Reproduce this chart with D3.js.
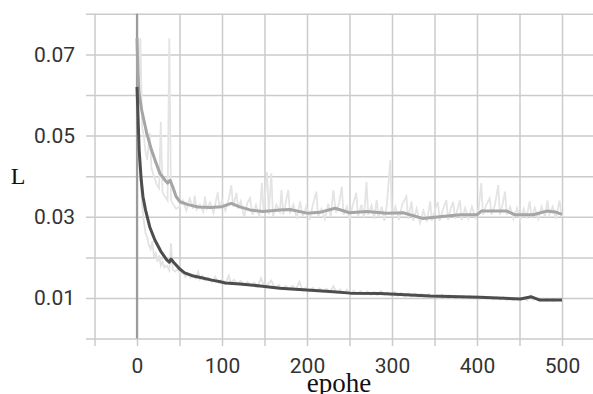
<!DOCTYPE html>
<html>
<head>
<meta charset="utf-8">
<script src="https://cdn.jsdelivr.net/npm/d3@7"></script>
<style>
html,body{margin:0;padding:0;background:#fff;overflow:hidden;}
</style>
</head>
<body>
<svg id="chart" width="593" height="394"></svg>
<script>
// ---- data ----
const xTicks = [0, 100, 200, 300, 400, 500];
const yTicks = [0.01, 0.03, 0.05, 0.07];
const xGrid = [-50, 0, 50, 100, 150, 200, 250, 300, 350, 400, 450, 500, 550];
const yGrid = [0, 0.01, 0.02, 0.03, 0.04, 0.05, 0.06, 0.07, 0.08];
const xLabel = "epohe";
const yLabel = "L";

// upper series, smoothed
const upSmoothSteps = [0, 1, 2.4, 5.5, 11.4, 17, 22, 27, 33, 36, 39, 42, 46, 50.6, 60, 72, 86, 100, 111, 120, 133, 148, 168, 180, 200, 215, 233, 250, 270, 294, 313, 336, 356, 380, 400, 405, 435, 445, 466, 482, 492, 500];
const upSmoothVals = [0.074, 0.066, 0.0605, 0.0563, 0.0506, 0.0465, 0.0435, 0.0407, 0.039, 0.0383, 0.039, 0.0374, 0.035, 0.0337, 0.033, 0.0324, 0.0323, 0.0325, 0.0333, 0.0325, 0.0317, 0.0313, 0.0317, 0.0318, 0.0309, 0.0311, 0.0321, 0.031, 0.0313, 0.0309, 0.031, 0.0296, 0.030, 0.0305, 0.0305, 0.0314, 0.0314, 0.0305, 0.0305, 0.0314, 0.0312, 0.0306];

// lower series, smoothed
const lowSmoothSteps = [0, 1, 2.5, 5, 7, 10, 15, 21, 28, 35, 38, 40, 43, 50, 56, 65, 76, 88, 98, 104, 121, 145, 168, 200, 231, 251, 286, 298, 345, 403, 451, 464, 474, 500];
const lowSmoothVals = [0.062, 0.056, 0.0465, 0.039, 0.035, 0.0317, 0.0275, 0.0243, 0.0215, 0.0194, 0.0188, 0.0196, 0.0188, 0.0172, 0.0162, 0.0155, 0.015, 0.0144, 0.014, 0.0137, 0.01345, 0.01296, 0.0124, 0.012, 0.01156, 0.0112, 0.0111, 0.011, 0.0105, 0.0102, 0.00975, 0.0103, 0.0095, 0.0095];

// upper series, raw
const upRawSteps = [0, 2, 4, 6, 8, 10, 12, 15, 17, 20, 23, 26, 28, 30, 33, 36, 38, 40, 43, 46, 50, 54, 58, 62, 66, 68, 70, 74, 78, 80, 82, 86, 90, 95, 97, 100, 104, 108, 111, 113, 117, 119, 122, 126, 130, 133, 136, 140, 144, 147, 149, 153, 155, 158, 160, 164, 168, 170, 172, 175, 178, 180, 184, 188, 192, 195, 199, 203, 207, 211, 213, 217, 221, 225, 228, 231, 234, 238, 241, 243, 247, 250, 254, 258, 260, 264, 267, 270, 272, 276, 279, 282, 284, 288, 291, 294, 298, 300, 304, 308, 312, 317, 319, 323, 325, 329, 333, 337, 341, 345, 347, 351, 354, 356, 360, 364, 366, 369, 372, 374, 377, 380, 382, 386, 390, 394, 398, 402, 405, 407, 411, 415, 417, 421, 425, 427, 430, 433, 435, 439, 443, 447, 451, 455, 458, 462, 464, 468, 472, 476, 480, 483, 485, 489, 493, 497, 500];
const upRawVals = [0.074, 0.060, 0.074, 0.052, 0.050, 0.046, 0.044, 0.0506, 0.042, 0.040, 0.038, 0.037, 0.0534, 0.036, 0.035, 0.034, 0.074, 0.034, 0.033, 0.032, 0.0325, 0.0340, 0.0315, 0.0345, 0.0320, 0.0352, 0.0318, 0.0330, 0.0312, 0.0350, 0.0320, 0.0335, 0.0310, 0.0360, 0.0322, 0.0340, 0.0315, 0.0345, 0.0378, 0.0325, 0.0359, 0.0320, 0.0338, 0.0300, 0.0335, 0.0346, 0.0305, 0.0330, 0.0298, 0.0383, 0.0310, 0.0410, 0.0305, 0.0407, 0.0300, 0.0330, 0.0312, 0.0366, 0.0305, 0.0335, 0.0366, 0.0308, 0.0330, 0.0295, 0.0338, 0.0300, 0.0325, 0.0292, 0.0330, 0.0362, 0.0300, 0.0320, 0.0295, 0.0332, 0.0300, 0.0366, 0.0310, 0.0335, 0.0374, 0.0305, 0.0325, 0.0293, 0.0330, 0.0359, 0.0300, 0.0330, 0.0298, 0.0386, 0.0305, 0.0328, 0.0295, 0.0341, 0.0300, 0.0325, 0.0290, 0.0330, 0.0440, 0.0300, 0.0325, 0.0292, 0.0330, 0.0350, 0.0295, 0.0338, 0.0290, 0.0320, 0.0285, 0.0315, 0.0288, 0.0338, 0.0290, 0.0320, 0.0337, 0.0290, 0.0318, 0.0341, 0.0292, 0.0320, 0.0337, 0.0295, 0.0318, 0.0340, 0.0292, 0.0322, 0.0296, 0.0325, 0.0298, 0.0320, 0.0383, 0.0305, 0.0330, 0.0346, 0.0305, 0.0328, 0.0378, 0.0305, 0.0330, 0.0362, 0.0305, 0.0325, 0.0295, 0.0322, 0.0292, 0.0320, 0.0296, 0.0338, 0.0298, 0.0322, 0.0295, 0.0325, 0.0300, 0.0340, 0.0305, 0.0325, 0.0295, 0.0340, 0.0300];

// lower series, raw
const lowRawSteps = [0, 2, 4, 6, 8, 10, 12, 14, 16, 18, 20, 22, 24, 26, 28, 30, 32, 35, 38, 40, 42, 45, 48, 51, 54, 57, 60, 63, 66, 69, 72, 74, 77, 80, 84, 88, 92, 96, 100, 104, 108, 110, 114, 118, 122, 126, 130, 134, 138, 142, 146, 150, 154, 158, 161, 163, 167, 171, 175, 179, 183, 187, 191, 195, 199, 203, 207, 211, 215, 219, 223, 227, 231, 235, 239, 243, 247, 251, 255, 259, 263, 267, 271, 275, 279, 283, 287, 291, 295, 299, 303, 307, 311, 315, 319, 323, 327, 331, 335, 339, 343, 347, 351, 355, 359, 363, 367, 371, 375, 379, 383, 387, 391, 395, 399, 403, 407, 411, 415, 419, 423, 427, 431, 435, 439, 443, 447, 451, 455, 459, 463, 466, 470, 474, 478, 482, 486, 490, 494, 498, 500];
const lowRawVals = [0.062, 0.045, 0.040, 0.033, 0.029, 0.026, 0.025, 0.023, 0.022, 0.024, 0.020, 0.021, 0.019, 0.0205, 0.018, 0.019, 0.0175, 0.018, 0.0168, 0.0235, 0.017, 0.0165, 0.0172, 0.0158, 0.0165, 0.0152, 0.0160, 0.0150, 0.0158, 0.0148, 0.0165, 0.0146, 0.0155, 0.0143, 0.0150, 0.0140, 0.0152, 0.0138, 0.0146, 0.0136, 0.0155, 0.0137, 0.0145, 0.0134, 0.0142, 0.0131, 0.0140, 0.0130, 0.0138, 0.0128, 0.0149, 0.0127, 0.0134, 0.0143, 0.0130, 0.0126, 0.0132, 0.0122, 0.0130, 0.0121, 0.0130, 0.0120, 0.0140, 0.0118, 0.0126, 0.0117, 0.0125, 0.0116, 0.0124, 0.0115, 0.0123, 0.0114, 0.0129, 0.0113, 0.0121, 0.0112, 0.0120, 0.0110, 0.0118, 0.0110, 0.0117, 0.0109, 0.0116, 0.0108, 0.0115, 0.0107, 0.0117, 0.0108, 0.0114, 0.0106, 0.0115, 0.0105, 0.0113, 0.0104, 0.0112, 0.0103, 0.0111, 0.0103, 0.0110, 0.0102, 0.0110, 0.0101, 0.0109, 0.0100, 0.0108, 0.0100, 0.0107, 0.0099, 0.0106, 0.0099, 0.0105, 0.0098, 0.0105, 0.0098, 0.0104, 0.0097, 0.0104, 0.0097, 0.0103, 0.0096, 0.0102, 0.0096, 0.0102, 0.0095, 0.0101, 0.0095, 0.0101, 0.0094, 0.0100, 0.0094, 0.0106, 0.0096, 0.0099, 0.0093, 0.0099, 0.0093, 0.0098, 0.0093, 0.0098, 0.0100, 0.0094];

// ---- chart ----
const W = 593, H = 394;
const svg = d3.select("#chart");
const x = d3.scaleLinear().domain([0, 500]).range([137, 562]);
const y = d3.scaleLinear().domain([0, 0.08]).range([338.6, 13.8]);
const plotLeft = 86, plotBottom = 346, plotTop = y(0.08);

const gridColor = "#cbcbcb";
const textColor = "#333";
const tickFont = "Roboto, 'Noto Sans', sans-serif";

// vertical gridlines via axisBottom
const gx = svg.append("g")
  .attr("transform", `translate(0,${plotBottom})`)
  .call(d3.axisBottom(x).tickValues(xGrid)
    .tickSize(-(plotBottom - plotTop))
    .tickPadding(12)
    .tickFormat(d => xTicks.includes(d) ? d3.format("d")(d) : ""));
gx.select(".domain").remove();
gx.selectAll(".tick line").attr("stroke", gridColor).attr("stroke-width", 1.5);
gx.selectAll(".tick text").attr("font-family", tickFont).attr("font-size", 21).attr("fill", textColor);

// horizontal gridlines via axisLeft
const gy = svg.append("g")
  .attr("transform", `translate(${plotLeft},0)`)
  .call(d3.axisLeft(y).tickValues(yGrid)
    .tickSize(-(W - plotLeft + 5))
    .tickPadding(11)
    .tickFormat(d => yTicks.some(t => Math.abs(t - d) < 1e-9) ? d3.format(".2f")(d) : ""));
gy.select(".domain").remove();
gy.selectAll(".tick line").attr("stroke", gridColor).attr("stroke-width", 1.5);
gy.selectAll(".tick text").attr("font-family", tickFont).attr("font-size", 21).attr("fill", textColor);

// axis line at step 0
svg.append("line")
  .attr("x1", x(0)).attr("x2", x(0))
  .attr("y1", plotTop).attr("y2", y(0))
  .attr("stroke", "#9c9c9c").attr("stroke-width", 2.2);

const line = d3.line().x(d => x(d[0])).y(d => y(d[1]));
const zip = (a, b) => a.map((s, i) => [s, b[i]]);

svg.append("path").datum(zip(upRawSteps, upRawVals))
  .attr("d", line).attr("fill", "none").attr("stroke", "#e4e4e4").attr("stroke-width", 1.8);
svg.append("path").datum(zip(lowRawSteps, lowRawVals))
  .attr("d", line).attr("fill", "none").attr("stroke", "#e2e2e2").attr("stroke-width", 1.8);

svg.append("path").datum(zip(upSmoothSteps, upSmoothVals))
  .attr("d", line).attr("fill", "none").attr("stroke", "#a5a5a5").attr("stroke-width", 3)
  .attr("stroke-linejoin", "round");
svg.append("path").datum(zip(lowSmoothSteps, lowSmoothVals))
  .attr("d", line).attr("fill", "none").attr("stroke", "#4d4d4d").attr("stroke-width", 3)
  .attr("stroke-linejoin", "round");

// axis titles
svg.append("text").attr("x", 18).attr("y", 184)
  .attr("text-anchor", "middle")
  .attr("font-family", "'Liberation Serif', 'Times New Roman', serif")
  .attr("font-size", 24).attr("fill", "#111").text(yLabel);
svg.append("text").attr("x", 339).attr("y", 392)
  .attr("text-anchor", "middle")
  .attr("font-family", "'Liberation Serif', 'Times New Roman', serif")
  .attr("font-size", 27).attr("fill", "#111").text(xLabel);
</script>
</body>
</html>
